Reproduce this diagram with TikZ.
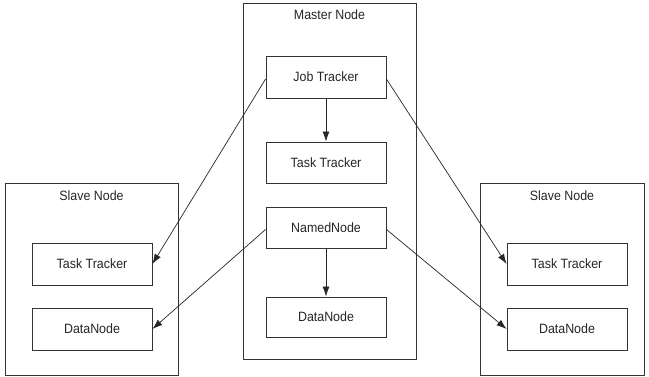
\documentclass[tikz,border=0pt]{standalone}
\usepackage{fontspec}
\setmainfont{Liberation Sans}[FakeStretch=0.92]
\usetikzlibrary{arrows.meta}
\begin{document}
\begin{tikzpicture}[x=1pt,y=-1pt,
  frame/.style={draw=black!80,line width=0.8pt},
  inner/.style={draw=black!80,line width=0.9pt,fill=white},
  lbl/.style={font=\fontsize{13.5}{15}\selectfont,text=black!85},
  conn/.style={draw=black!85,line width=0.7pt,-{Latex[length=10pt,width=7pt]}}]
\useasboundingbox (0,0) rectangle (649,377);
% containers
\draw[frame] (243,3) rectangle (416,359);
\draw[frame] (5,183) rectangle (178,375);
\draw[frame] (480,183) rectangle (644,375);
\node[lbl] (mlabel) at (329.5,15) {Master Node};
\node[lbl] (sllabel) at (91.5,196) {Slave Node};
\node[lbl] (srlabel) at (562,196) {Slave Node};
% master inner
\node[inner,lbl,minimum width=120pt,minimum height=42pt] (jt) at (326,77) {Job Tracker};
\node[inner,lbl,minimum width=120pt,minimum height=41pt] (mtt) at (326,162.5) {Task Tracker};
\node[inner,lbl,minimum width=120pt,minimum height=41pt] (nn) at (326,227.5) {NamedNode};
\node[inner,lbl,minimum width=120pt,minimum height=40pt] (mdn) at (326,317) {DataNode};
% left slave
\node[inner,lbl,minimum width=120pt,minimum height=42pt] (ltt) at (92,264) {Task Tracker};
\node[inner,lbl,minimum width=120pt,minimum height=42pt] (ldn) at (92,329) {DataNode};
% right slave
\node[inner,lbl,minimum width=120pt,minimum height=42pt] (rtt) at (567,264) {Task Tracker};
\node[inner,lbl,minimum width=120pt,minimum height=42pt] (rdn) at (567,329) {DataNode};
% connectors
\draw[conn] (jt) -- (mtt);
\draw[conn] (nn) -- (mdn);
\draw[conn] (jt.west) ++(0,2) -- (ltt.east);
\draw[conn] (jt.east) ++(0,2) -- (rtt.west);
\draw[conn] (nn.west) ++(0,2) -- (ldn.east);
\draw[conn] (nn.east) ++(0,2) -- (rdn.west);
\end{tikzpicture}
\end{document}
